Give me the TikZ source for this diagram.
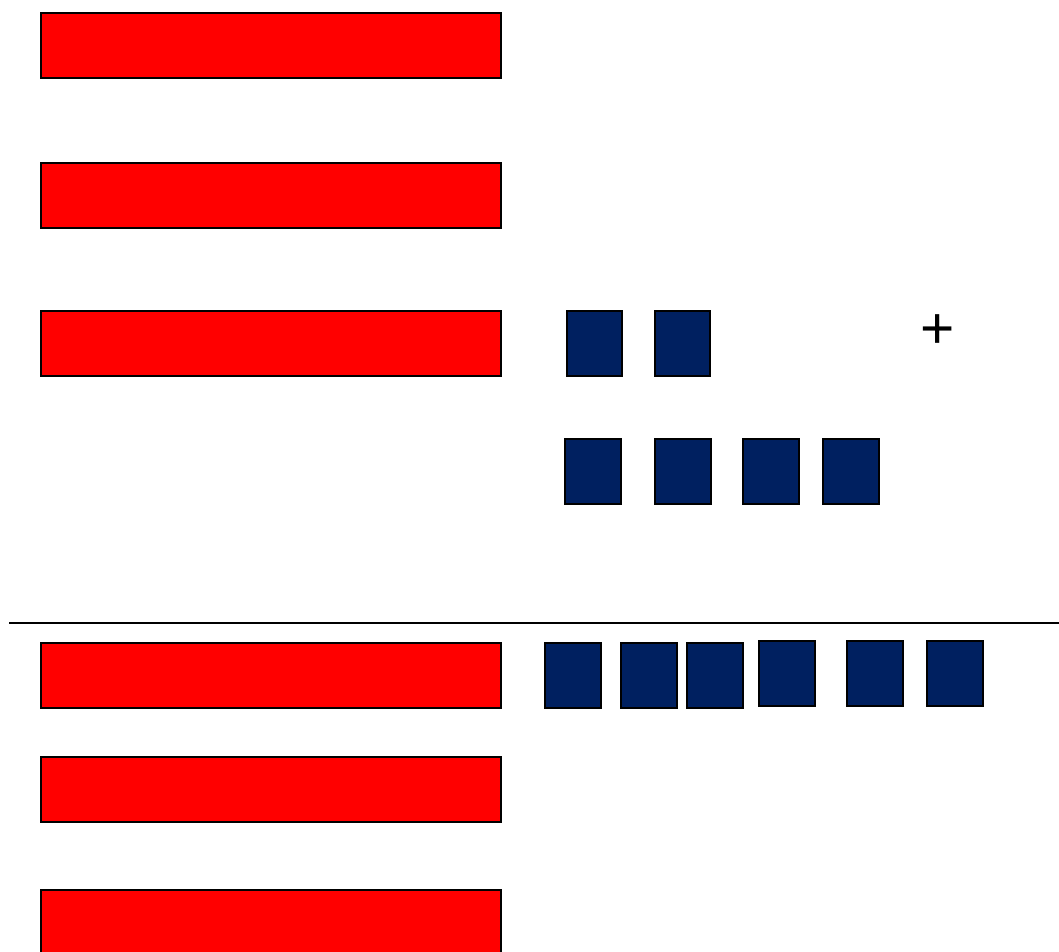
\documentclass[tikz,border=0pt]{standalone}
\usepackage{fontspec}
\setmainfont{Liberation Sans}
\usepackage{tikz}
\definecolor{barred}{RGB}{255,0,0}
\definecolor{tileblue}{RGB}{0,32,96}
\tikzset{
    bar/.style={
        fill=barred,
        draw=black,
        line width=1pt
    },
    tile/.style={
        fill=tileblue,
        draw=black,
        line width=1pt
    }
}

\begin{document}
\begin{tikzpicture}[x=0.75pt, y=-0.75pt]

\useasboundingbox (0,0) rectangle (1059,951);

% ---------------- BARRES ----------------

% a dalt
\draw[bar] (41,13) rectangle (501,78);
\draw[bar] (41,163) rectangle (501,228);
\draw[bar] (41,311) rectangle (501,376);

% a baix
\draw[bar] (41,643) rectangle (501,708);
\draw[bar] (41,757) rectangle (501,822);
\draw[bar] (41,890) rectangle (501,960);


% ---------------- QUADRATS ----------------

% fila 1
\draw[tile] (567,311) rectangle (622,376);
\draw[tile] (655,311) rectangle (710,376);

% fila 2
\foreach \xa in {565,655,743,823}
    \draw[tile] (\xa,439) rectangle ++(56,65);

% fila 3
\draw[tile] (545,643) rectangle (601,708);
\draw[tile] (621,643) rectangle (677,708);
\draw[tile] (687,643) rectangle (743,708);
\draw[tile] (759,641) rectangle (815,706);
\draw[tile] (847,641) rectangle (903,706);
\draw[tile] (927,641) rectangle (983,706);


% ---------------- SIGNE ----------------

\node[
    font=\fontsize{44}{44}\selectfont,
    inner sep=0pt
] (plus) at (937.5,332) {+};


% ---------------- RATLLA ----------------

\coordinate (ratllaE) at (9,623);
\coordinate (ratllaD) at (1059,623);

\draw[line width=1pt] (ratllaE) -- (ratllaD);

\end{tikzpicture}
\end{document}
